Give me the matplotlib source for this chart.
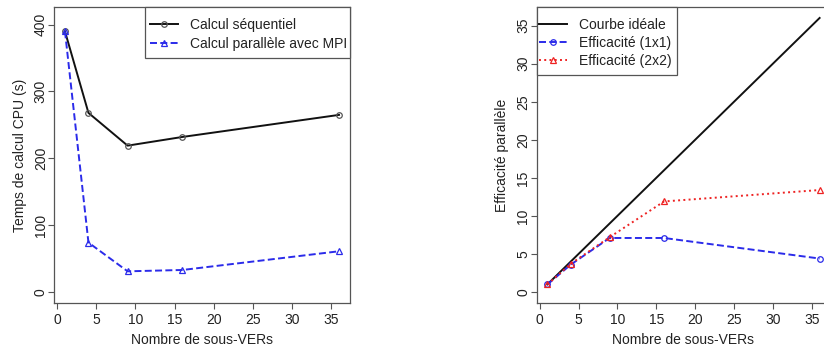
import numpy as np
import matplotlib.pyplot as plt
from matplotlib.patches import Rectangle

plt.rcParams['font.family'] = ['Liberation Sans', 'DejaVu Sans']
plt.rcParams['font.size'] = 10

# Number of sub-VERs
n_sub = [1, 4, 9, 16, 36]

# CPU time (s)
t_seq = [390, 268, 219, 232, 265]
t_mpi = [390, 74, 31, 33, 61]

# Parallel efficiency
ideal_x = [1, 36]
ideal_y = [1, 36]
eff_1x1 = [1.0, 3.6, 7.1, 7.1, 4.4]
eff_2x2 = [1.0, 3.7, 7.2, 11.9, 13.4]

BOX = '#555555'
TXT = '#222222'
BLUE = '#2b2bea'
RED = '#ee2222'
DASH = (0, (3.6, 1.7))
DOT = (0, (1, 1.7))


def r_style(ax, xticks, yticks):
    # R base-graphics look: full box, outward ticks, rotated y labels
    for s in ax.spines.values():
        s.set_color(BOX)
        s.set_linewidth(0.9)
    ax.set_xticks(xticks)
    ax.set_yticks(yticks)
    ax.tick_params(direction='out', length=4.5, width=0.8, color=BOX,
                   labelcolor=TXT, labelsize=10)
    ax.tick_params(axis='x', pad=3)
    ax.tick_params(axis='y', pad=0)
    for lab in ax.get_yticklabels():
        lab.set_rotation(90)
        lab.set_va('center')


def r_legend(ax, corner, top_gap=8.0):
    # legend entries without frame, then a box with extra room above/below
    h_ax = ax.get_window_extent().height
    y = 1 - top_gap / h_ax
    if corner == 'right':
        leg = ax.legend(loc='upper right', bbox_to_anchor=(1, y))
    else:
        leg = ax.legend(loc='upper left', bbox_to_anchor=(0, y))
    leg.set_frame_on(False)
    for t in leg.get_texts():
        t.set_color(TXT)
    ax.figure.canvas.draw()
    bb = leg.get_window_extent()
    inv = ax.transAxes.inverted()
    (x0, y0), (x1, y1) = inv.transform([[bb.x0 - 3, bb.y0 - top_gap * 0.55],
                                        [bb.x1 + 3, bb.y1]])
    if corner == 'right':
        x1 = 1
    else:
        x0 = 0
    ax.add_patch(Rectangle((x0, y0), x1 - x0, 1 - y0, transform=ax.transAxes,
                           facecolor='white', edgecolor=BOX, lw=0.9,
                           clip_on=False, zorder=4.9))
    return leg


fig = plt.figure(figsize=(8.24, 3.5), dpi=100)
W, H = 824, 350
plt.rcParams.update({'legend.fontsize': 10, 'legend.handlelength': 2.0,
                     'legend.handletextpad': 0.85, 'legend.borderpad': 0.2,
                     'legend.borderaxespad': 0})

# Left panel: CPU time
ax1 = fig.add_axes([54 / W, 47 / H, 296 / W, 296 / H])
ax1.plot(n_sub, t_seq, color='#111111', lw=1.4, marker='o', ms=4, mfc='none',
         mec='#555555', mew=0.9, label='Calcul séquentiel')
ax1.plot(n_sub, t_mpi, color=BLUE, lw=1.4, ls=DASH, marker='^', ms=4.5,
         mfc='none', mec=BLUE, mew=0.9, label='Calcul parallèle avec MPI')
ax1.set_xlim(-0.4, 37.4)
ax1.set_ylim(-16.4, 426.4)
r_style(ax1, [0, 5, 10, 15, 20, 25, 30, 35], [0, 100, 200, 300, 400])
ax1.set_xlabel('Nombre de sous-VERs', color=TXT, labelpad=4)
ax1.set_ylabel('Temps de calcul CPU (s)', color=TXT, labelpad=5)
plt.rcParams['legend.labelspacing'] = 0.35
r_legend(ax1, 'right')

# Right panel: parallel efficiency (runs off the right edge)
ax2 = fig.add_axes([536.5 / W, 47 / H, 294 / W, 296 / H])
ax2.plot(ideal_x, ideal_y, color='#111111', lw=1.4, label='Courbe idéale')
ax2.plot(n_sub, eff_1x1, color=BLUE, lw=1.4, ls=DASH, marker='o', ms=4,
         mfc='none', mec=BLUE, mew=0.9, label='Efficacité (1x1)')
ax2.plot(n_sub, eff_2x2, color=RED, lw=1.4, ls=DOT, marker='^', ms=4.5,
         mfc='none', mec=RED, mew=0.9, label='Efficacité (2x2)')
ax2.set_xlim(-0.4, 37.4)
ax2.set_ylim(-1.44, 37.44)
r_style(ax2, [0, 5, 10, 15, 20, 25, 30, 35], [0, 5, 10, 15, 20, 25, 30, 35])
ax2.set_xlabel('Nombre de sous-VERs', color=TXT, labelpad=4)
ax2.set_ylabel('Efficacité parallèle', color=TXT, labelpad=5)
plt.rcParams['legend.labelspacing'] = 0.28
r_legend(ax2, 'left')

fig.savefig('out.png', dpi=100)
